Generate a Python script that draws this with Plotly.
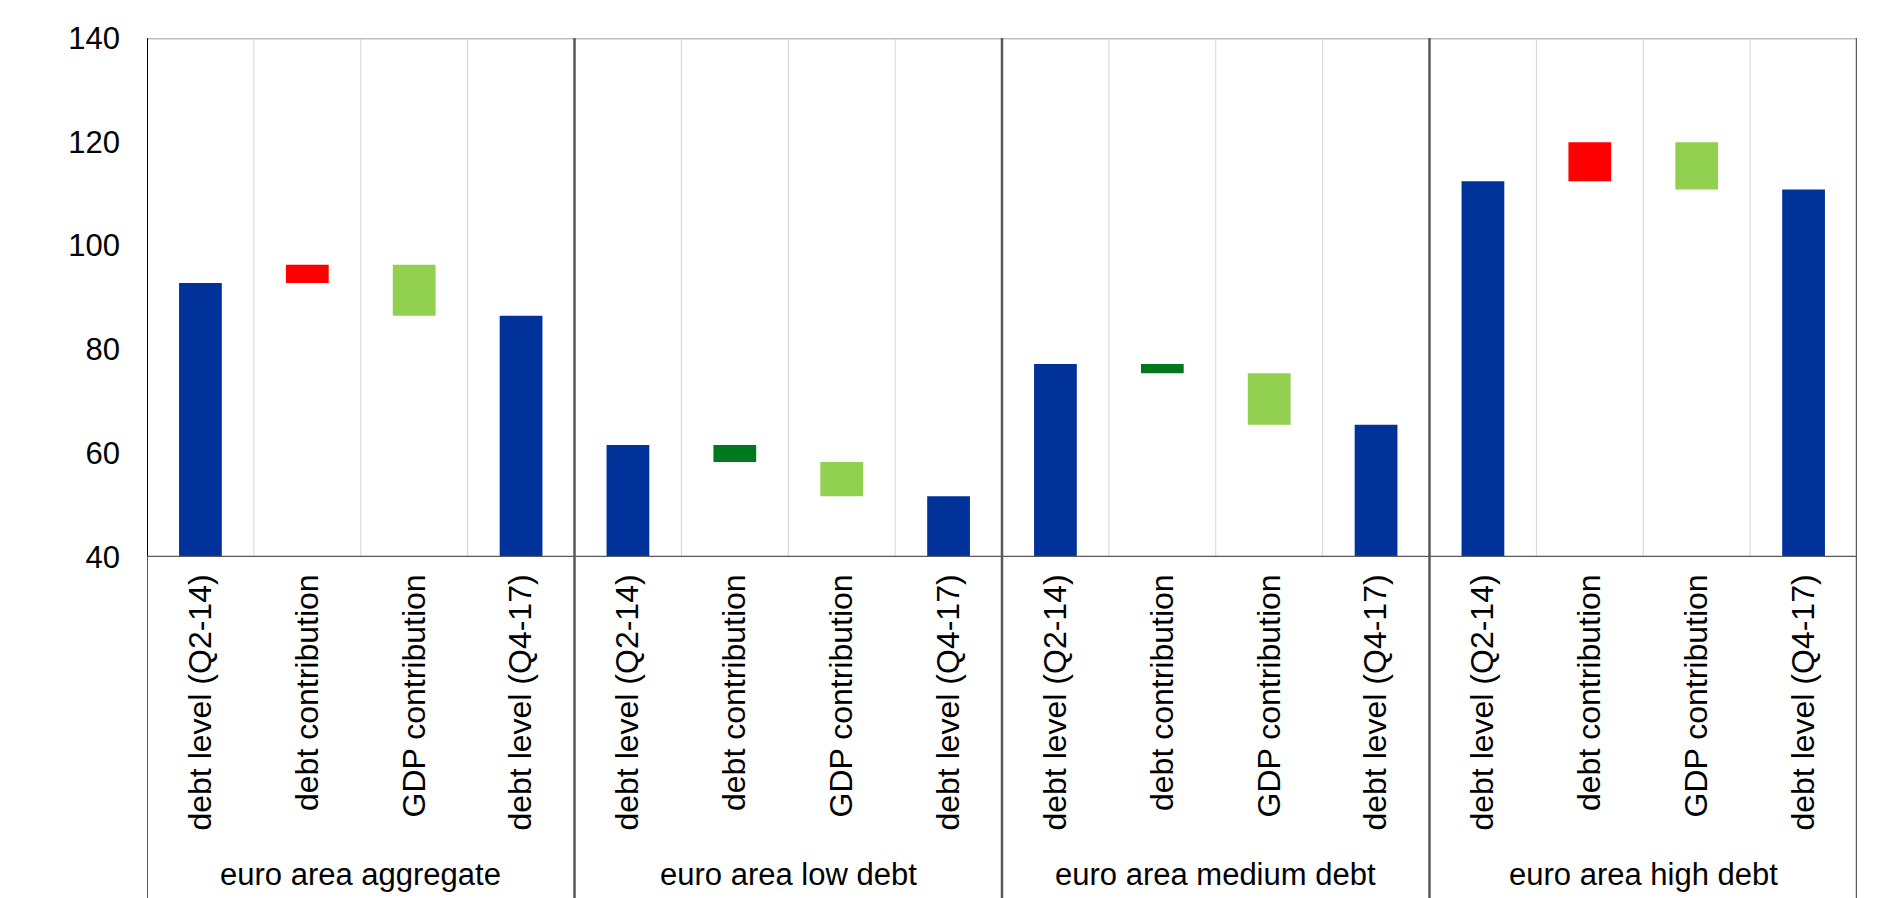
import plotly.graph_objects as go

# ---------------- data ----------------
groups = ["euro area aggregate", "euro area low debt", "euro area medium debt", "euro area high debt"]
categories = ["debt level (Q2-14)", "debt contribution", "GDP contribution", "debt level (Q4-17)"]
debt_level_q2_14 = [92.8, 61.6, 77.2, 112.4]
debt_contribution = [3.5, -3.3, -1.8, 7.5]
gdp_contribution = [-9.8, -6.6, -9.9, -9.1]
debt_level_q4_17 = [86.5, 51.7, 65.5, 110.8]
y_ticks = [40, 60, 80, 100, 120, 140]

# ---------------- styles ----------------
BLUE = "#003299"
RED = "#FF0000"
DARK_GREEN = "#00781E"
LIGHT_GREEN = "#92D050"
FONT = "Liberation Sans, Arial, sans-serif"

n_cat = len(categories)
n_grp = len(groups)
pos = lambda g, c: g * n_cat + c

fig = go.Figure()

# level bars (start and end)
lvl_x = [pos(g, 0) for g in range(n_grp)] + [pos(g, 3) for g in range(n_grp)]
lvl_y = debt_level_q2_14 + debt_level_q4_17
fig.add_trace(go.Bar(x=lvl_x, y=lvl_y, base=0, width=0.4,
                     marker=dict(color=BLUE, line=dict(width=0)), showlegend=False))

# debt contribution (floating)
fig.add_trace(go.Bar(
    x=[pos(g, 1) for g in range(n_grp)],
    y=debt_contribution,
    base=debt_level_q2_14,
    width=0.4,
    marker=dict(color=[RED if v > 0 else DARK_GREEN for v in debt_contribution], line=dict(width=0)),
    showlegend=False))

# GDP contribution (floating)
fig.add_trace(go.Bar(
    x=[pos(g, 2) for g in range(n_grp)],
    y=gdp_contribution,
    base=[s + d for s, d in zip(debt_level_q2_14, debt_contribution)],
    width=0.4,
    marker=dict(color=LIGHT_GREEN, line=dict(width=0)),
    showlegend=False))

shapes = []
total = n_cat * n_grp
# minor separators inside plot
for i in range(total - 1):
    xv = i + 0.5
    if (i + 1) % n_cat == 0:
        continue
    shapes.append(dict(type="line", xref="x", yref="y", x0=xv, x1=xv, y0=40, y1=140,
                       line=dict(color="#D4D4D4", width=1), layer="below"))
# top border
shapes.append(dict(type="line", xref="x", yref="y", x0=-0.5, x1=total - 0.5, y0=140, y1=140,
                   line=dict(color="#C0C0C0", width=3), layer="above"))
# group separators extending below
for g in range(1, n_grp + 1):
    xv = g * n_cat - 0.5
    shapes.append(dict(type="line", xref="x", yref="paper", x0=xv, x1=xv, y0=-0.7, y1=1,
                       line=dict(color="#595959", width=2.5), layer="above"))
# left line below axis
shapes.append(dict(type="line", xref="x", yref="paper", x0=-0.5, x1=-0.5, y0=-0.7, y1=0,
                   line=dict(color="#595959", width=2), layer="above"))
# left axis line (black)
shapes.append(dict(type="line", xref="x", yref="paper", x0=-0.5, x1=-0.5, y0=0, y1=1,
                   line=dict(color="#000000", width=2), layer="above"))
# bottom axis line
shapes.append(dict(type="line", xref="x", yref="y", x0=-0.5, x1=total - 0.5, y0=40, y1=40,
                   line=dict(color="#595959", width=2.5), layer="above"))

annotations = []
for g, name in enumerate(groups):
    annotations.append(dict(x=g * n_cat + (n_cat - 1) / 2, y=-0.612, xref="x", yref="paper",
                            text=name, showarrow=False, xanchor="center", yanchor="middle",
                            font=dict(family=FONT, size=31, color="#000000")))

fig.update_layout(
    width=1882, height=890,
    margin=dict(l=139, r=33, t=30, b=341, pad=0),
    paper_bgcolor="white", plot_bgcolor="white",
    barmode="overlay",
    shapes=shapes, annotations=annotations,
    font=dict(family=FONT, size=31, color="#000000"),
    xaxis=dict(range=[-0.5, total - 0.5], tickmode="array",
               tickvals=list(range(total)), ticktext=categories * n_grp,
               tickangle=-90, showgrid=False, zeroline=False, showline=False,
               ticks="", ticklabelstandoff=10,
               tickfont=dict(family=FONT, size=32, color="#000000")),
    yaxis=dict(range=[40, 140], tickmode="array", tickvals=y_ticks,
               showgrid=False, zeroline=False, showline=False, ticks="",
               ticklabelstandoff=26,
               tickfont=dict(family=FONT, size=31, color="#000000")),
)

fig.write_html("out.html")
